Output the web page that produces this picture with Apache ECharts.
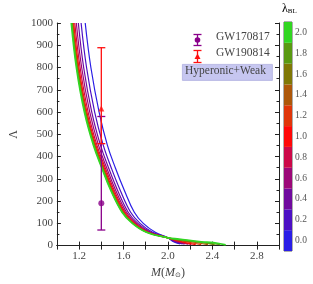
<!DOCTYPE html>
<html><head><meta charset="utf-8">
<script src="https://cdn.jsdelivr.net/npm/echarts@6/dist/echarts.min.js"></script>
<style>html,body{margin:0;padding:0;background:#fff}#c{width:313px;height:284px}</style>
</head><body><div id="c"></div>
<script>
// Lambda levels shared by the upper part of every curve
const lambdaLevels = [1000, 800, 600, 450, 350, 250, 150, 100, 60, 35];
// M values at those levels, one array per lambda_BL
const M_00 = [1.255, 1.306, 1.380, 1.455, 1.526, 1.606, 1.697, 1.778, 1.886, 2.0];
const M_02 = [1.218, 1.267, 1.340, 1.418, 1.489, 1.569, 1.664, 1.749, 1.862, 2.0];
const M_04 = [1.193, 1.241, 1.314, 1.393, 1.465, 1.545, 1.642, 1.729, 1.846, 2.0];
const M_06 = [1.175, 1.223, 1.296, 1.375, 1.448, 1.528, 1.627, 1.715, 1.835, 2.0];
const M_08 = [1.161, 1.209, 1.281, 1.361, 1.435, 1.515, 1.615, 1.705, 1.826, 2.0];
const M_10 = [1.151, 1.198, 1.270, 1.351, 1.425, 1.505, 1.606, 1.697, 1.820, 2.0];
const M_12 = [1.145, 1.192, 1.264, 1.345, 1.419, 1.499, 1.600, 1.692, 1.816, 2.0];
const M_14 = [1.140, 1.186, 1.259, 1.340, 1.414, 1.494, 1.596, 1.688, 1.812, 2.0];
const M_16 = [1.136, 1.183, 1.255, 1.336, 1.410, 1.490, 1.593, 1.685, 1.810, 2.0];
const M_18 = [1.133, 1.179, 1.251, 1.333, 1.406, 1.486, 1.589, 1.682, 1.808, 2.0];
const M_20 = [1.130, 1.176, 1.248, 1.330, 1.404, 1.484, 1.587, 1.680, 1.806, 2.0];
// tails beyond the crossing point: [M, Lambda]
const T_00 = [[2.05, 18], [2.11, 8]];
const T_02 = [[2.05, 20], [2.13, 8]];
const T_04 = [[2.06, 20], [2.15, 7]];
const T_06 = [[2.07, 20], [2.18, 6]];
const T_08 = [[2.08, 21], [2.21, 5]];
const T_10 = [[2.10, 20], [2.25, 4]];
const T_12 = [[2.10, 23], [2.20, 14], [2.30, 4]];
const T_14 = [[2.10, 25], [2.25, 14], [2.36, 4]];
const T_16 = [[2.10, 26], [2.30, 14], [2.42, 4]];
const T_18 = [[2.10, 27], [2.30, 16], [2.47, 4]];
const T_20 = [[2.10, 29], [2.30, 17], [2.41, 13], [2.52, 3]];

const lambdaBL = ['0.0','0.2','0.4','0.6','0.8','1.0','1.2','1.4','1.6','1.8','2.0'];
const colorbarColors = ['#2a1ee6','#4c10c4','#700a9e','#9c0878','#cc0848','#ff0808','#e0360a','#ae580a','#807806','#5a9a12','#32d622'];
const xTickLabels = ['1.2','1.6','2.0','2.4','2.8'];

// observational constraints: [M, Lambda, low, high]
const gw170817 = [1.4, 190, 70, 580];
const gw190814 = [1.4, 616, 458, 889];

const Ms = [M_00,M_02,M_04,M_06,M_08,M_10,M_12,M_14,M_16,M_18,M_20];
const Ts = [T_00,T_02,T_04,T_06,T_08,T_10,T_12,T_14,T_16,T_18,T_20];

const FONT = 'Liberation Serif';
const series = [];
Ms.forEach((m, i) => {
  const data = m.map((v, j) => [v, lambdaLevels[j]]).concat(Ts[i]);
  series.push({
    type: 'line', xAxisIndex: 0, yAxisIndex: 0, data: data,
    smooth: 0.4, showSymbol: false, symbol: 'none',
    lineStyle: {color: colorbarColors[i], width: i === 10 ? 1.8 : 1.2},
    silent: true, z: 2 + i / 20
  });
});

function errbar(color) {
  return function (params, api) {
    const x = api.value(0), lo = api.value(2), hi = api.value(3);
    const pl = api.coord([x, lo]), ph = api.coord([x, hi]);
    const st = {stroke: color, lineWidth: 1.3};
    return {type: 'group', children: [
      {type: 'line', shape: {x1: pl[0], y1: pl[1], x2: ph[0], y2: ph[1]}, style: st},
      {type: 'line', shape: {x1: pl[0]-4, y1: pl[1], x2: pl[0]+4, y2: pl[1]}, style: st},
      {type: 'line', shape: {x1: ph[0]-4, y1: ph[1], x2: ph[0]+4, y2: ph[1]}, style: st}
    ]};
  };
}
series.push({type: 'custom', xAxisIndex: 0, yAxisIndex: 0, renderItem: errbar('#8a008a'),
  data: [gw170817], z: 10, clip: false});
series.push({type: 'custom', xAxisIndex: 0, yAxisIndex: 0, renderItem: errbar('#ff1010'),
  data: [gw190814], z: 10, clip: false});
series.push({type: 'scatter', xAxisIndex: 0, yAxisIndex: 0, data: [[gw170817[0], gw170817[1]]],
  symbol: 'circle', symbolSize: 6, itemStyle: {color: '#8a008a'}, z: 11});
series.push({type: 'scatter', xAxisIndex: 0, yAxisIndex: 0, data: [[gw190814[0], gw190814[1]]],
  symbol: 'triangle', symbolSize: 6, itemStyle: {color: '#ff1010'}, z: 11});
// colorbar
series.push({type: 'bar', xAxisIndex: 2, yAxisIndex: 2, barCategoryGap: '0%',
  data: lambdaBL.map((l, i) => ({value: 1, itemStyle: {color: colorbarColors[i]}})),
  silent: true, z: 1});

const tickLbl = {fontFamily: FONT, fontSize: 11, color: '#444'};
const axLine = {show: true, lineStyle: {color: '#222', width: 1}};

const option = {
  animation: false,
  grid: [
    {left: 44, right: 34, top: 23, bottom: 33},
    {left: 284, width: 8, top: 22, height: 229, show: true, borderColor: '#333', borderWidth: 0.8}
  ],
  xAxis: [
    {type: 'value', gridIndex: 0, min: 1.0, max: 3.0, interval: 0.2,
      axisLine: axLine, splitLine: {show: false},
      axisTick: {inside: true, length: 4, lineStyle: {color: '#222'}},
      axisLabel: Object.assign({margin: 5, formatter: v => {
        const s = (Math.round(v * 10) / 10).toFixed(1);
        return xTickLabels.includes(s) ? s : '';
      }}, tickLbl),
      name: '{it|M}({it|M}{sub|⊙})', nameLocation: 'middle', nameGap: 19,
      nameTextStyle: {fontFamily: FONT, fontSize: 12, color: '#444',
        rich: {it: {fontFamily: FONT, fontStyle: 'italic', fontSize: 12, color: '#444'},
               sub: {fontFamily: 'DejaVu Sans', fontSize: 7, color: '#444', verticalAlign: 'bottom', padding: [6,0,0,0]}}}},
    {type: 'value', gridIndex: 0, min: 1.0, max: 3.0, interval: 0.2, position: 'top',
      axisLine: axLine, splitLine: {show: false}, axisLabel: {show: false},
      axisTick: {inside: true, length: 4, lineStyle: {color: '#222'}}},
    {type: 'value', gridIndex: 1, min: 0, max: 1, show: false}
  ],
  yAxis: [
    {type: 'value', gridIndex: 0, min: 0, max: 1000, interval: 100,
      axisLine: axLine, splitLine: {show: false},
      axisTick: {inside: true, length: 4, lineStyle: {color: '#222'}},
      minorTick: {show: true, splitNumber: 2, length: 2.5, lineStyle: {color: '#222'}},
      axisLabel: Object.assign({margin: 4, formatter: v => String(Math.round(v))}, tickLbl),
      name: 'Λ', nameLocation: 'middle', nameGap: 33, nameRotate: 90,
      nameTextStyle: {fontFamily: FONT, fontSize: 12, color: '#444'}},
    {type: 'value', gridIndex: 0, min: 0, max: 1000, interval: 100, position: 'right',
      axisLine: axLine, splitLine: {show: false}, axisLabel: {show: false},
      axisTick: {inside: true, length: 4, lineStyle: {color: '#222'}},
      minorTick: {show: true, splitNumber: 2, length: 2.5, lineStyle: {color: '#222'}}},
    {type: 'category', gridIndex: 1, data: lambdaBL, position: 'right',
      axisLine: {show: false}, splitLine: {show: false},
      axisTick: {alignWithLabel: true, length: 3, lineStyle: {color: '#333'}},
      axisLabel: {fontFamily: FONT, fontSize: 9.5, color: '#555', margin: 3}}
  ],
  series: series,
  graphic: [
    {type: 'text', left: 282, top: 3, style: {text: '{l|λ}{s|BL}', rich: {
      l: {fontFamily: FONT, fontSize: 12, color: '#444'},
      s: {fontFamily: FONT, fontSize: 7, color: '#444', verticalAlign: 'bottom', padding: [5,0,0,0]}}}},
    // legend entries
    {type: 'group', left: 191, top: 32, children: [
      {type: 'line', shape: {x1: 4, y1: 0, x2: 4, y2: 11}, style: {stroke: '#8a008a', lineWidth: 1.3}},
      {type: 'line', shape: {x1: 0, y1: 0, x2: 8, y2: 0}, style: {stroke: '#8a008a', lineWidth: 1.3}},
      {type: 'line', shape: {x1: 0, y1: 11, x2: 8, y2: 11}, style: {stroke: '#8a008a', lineWidth: 1.3}},
      {type: 'circle', shape: {cx: 4, cy: 5.5, r: 2.8}, style: {fill: '#8a008a'}}
    ]},
    {type: 'text', left: 216, top: 31, style: {text: 'GW170817', fontFamily: FONT, fontSize: 11.5, fill: '#444'}},
    {type: 'group', left: 191, top: 48, children: [
      {type: 'line', shape: {x1: 4, y1: 0, x2: 4, y2: 12}, style: {stroke: '#ff1010', lineWidth: 1.3}},
      {type: 'line', shape: {x1: 0, y1: 0, x2: 8, y2: 0}, style: {stroke: '#ff1010', lineWidth: 1.3}},
      {type: 'line', shape: {x1: 0, y1: 12, x2: 8, y2: 12}, style: {stroke: '#ff1010', lineWidth: 1.3}},
      {type: 'polygon', shape: {points: [[4, 3], [7, 8.5], [1, 8.5]]}, style: {fill: '#ff1010'}}
    ]},
    {type: 'text', left: 216, top: 47, style: {text: 'GW190814', fontFamily: FONT, fontSize: 11.5, fill: '#444'}},
    {type: 'rect', left: 182, top: 64, shape: {width: 90, height: 16},
      style: {fill: '#c6c6f0', stroke: '#b0b0e0', lineWidth: 0.8}},
    {type: 'text', left: 185, top: 65, style: {text: 'Hyperonic+Weak', fontFamily: FONT, fontSize: 11.5, fill: '#444'}}
  ]
};
const chart = echarts.init(document.getElementById('c'), null, {renderer: 'canvas'});
chart.setOption(option);
</script></body></html>
